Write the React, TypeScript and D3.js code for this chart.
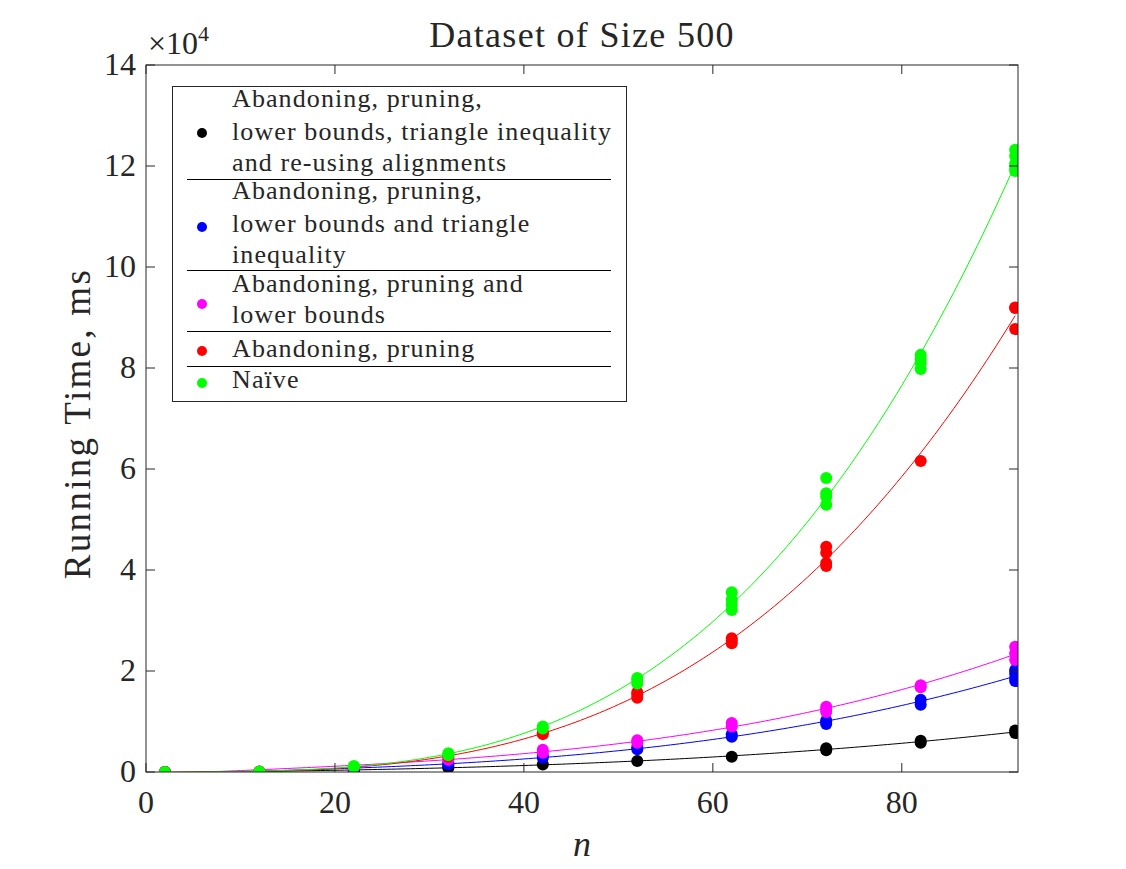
import React, { useEffect, useRef } from "react";
import * as d3 from "d3";

// problem sizes on the x axis
const nValues = [2, 12, 22, 32, 42, 52, 62, 72, 82, 92];

// running times (x 10^4 ms), several runs per n
const reuseTimes = [[0], [0], [0.01], [0.08, 0.12], [0.15], [0.22], [0.3], [0.43, 0.47], [0.58, 0.62], [0.77, 0.82]];
const triangleTimes = [[0], [0], [0.02], [0.15, 0.19], [0.28, 0.32], [0.45, 0.49], [0.7, 0.75], [0.95, 0.99, 1.02], [1.33, 1.43], [1.8, 1.86, 1.95, 2.02]];
const lowerBoundTimes = [[0], [0.01], [0.08], [0.24, 0.28], [0.38, 0.44], [0.58, 0.63], [0.9, 0.97], [1.19, 1.24, 1.29], [1.68, 1.72], [2.22, 2.35, 2.48]];
const pruningTimes = [[0], [0.01], [0.1], [0.3], [0.75, 0.78], [1.47, 1.53, 1.58], [2.55, 2.6, 2.65], [4.08, 4.14, 4.34, 4.46], [6.16], [8.77, 9.19, 9.2]];
const naiveTimes = [[0], [0.01], [0.1, 0.12], [0.33, 0.37], [0.86, 0.9], [1.75, 1.82, 1.86], [3.21, 3.31, 3.41, 3.56], [5.29, 5.45, 5.52, 5.82], [7.98, 8.1, 8.18, 8.26], [11.9, 11.95, 12.05, 12.2, 12.32]];

const legendLabels = [
  ["Abandoning, pruning,", "lower bounds, triangle inequality", "and re-using alignments"],
  ["Abandoning, pruning,", "lower bounds and triangle", "inequality"],
  ["Abandoning, pruning and", "lower bounds"],
  ["Abandoning, pruning"],
  ["Naïve"],
];
const seriesColors = ["#000000", "#0000ff", "#ff00ff", "#ff0000", "#00ff00"];
const seriesTimes = [reuseTimes, triangleTimes, lowerBoundTimes, pruningTimes, naiveTimes];

const xTicks = [0, 20, 40, 60, 80];
const yTicks = [0, 2, 4, 6, 8, 10, 12, 14];

const FONT = "'Liberation Serif', 'Times New Roman', serif";
const INK = "#262626";

// least squares cubic fit, n scaled to keep the system well conditioned
function cubicFit(xs: number[], ys: number[]) {
  const deg = 3;
  const m = deg + 1;
  const A: number[][] = Array.from({ length: m }, () => new Array(m + 1).fill(0));
  xs.forEach((x0, k) => {
    const x = x0 / 100;
    for (let i = 0; i < m; i++) {
      for (let j = 0; j < m; j++) A[i][j] += Math.pow(x, i + j);
      A[i][m] += Math.pow(x, i) * ys[k];
    }
  });
  for (let c = 0; c < m; c++) {
    let p = c;
    for (let r = c + 1; r < m; r++) if (Math.abs(A[r][c]) > Math.abs(A[p][c])) p = r;
    [A[c], A[p]] = [A[p], A[c]];
    for (let r = 0; r < m; r++) {
      if (r === c) continue;
      const f = A[r][c] / A[c][c];
      for (let k = c; k <= m; k++) A[r][k] -= f * A[c][k];
    }
  }
  const coef = A.map((row, i) => row[m] / row[i]);
  return (x0: number) => {
    const x = x0 / 100;
    return coef.reduce((s, c, i) => s + c * Math.pow(x, i), 0);
  };
}

export default function App() {
  const svgRef = useRef<SVGSVGElement>(null);

  useEffect(() => {
    const width = 1126;
    const height = 869;
    const margin = { top: 65, right: 108, bottom: 97, left: 146 };
    const svg = d3.select(svgRef.current);
    svg.selectAll("*").remove();

    const x = d3.scaleLinear().domain([0, 92.3]).range([margin.left, width - margin.right]);
    const y = d3.scaleLinear().domain([0, 14]).range([height - margin.bottom, margin.top]);

    svg.append("rect").attr("width", width).attr("height", height).attr("fill", "#fff");

    svg
      .append("defs")
      .append("clipPath")
      .attr("id", "plot-clip")
      .append("rect")
      .attr("x", margin.left)
      .attr("y", margin.top)
      .attr("width", x.range()[1] - margin.left)
      .attr("height", y.range()[0] - margin.top);

    const plot = svg.append("g").attr("clip-path", "url(#plot-clip)");

    seriesTimes.forEach((times, s) => {
      const pts = times.flatMap((runs, i) => runs.map((v) => ({ n: nValues[i], v })));
      plot
        .append("g")
        .selectAll("circle")
        .data(pts)
        .enter()
        .append("circle")
        .attr("cx", (d) => x(d.n))
        .attr("cy", (d) => y(d.v))
        .attr("r", 6)
        .attr("fill", seriesColors[s]);

      const fit = cubicFit(pts.map((d) => d.n), pts.map((d) => d.v));
      const curve = d3.range(2, 92.01, 0.5).map((n) => [n, fit(n)] as [number, number]);
      plot
        .append("path")
        .datum(curve)
        .attr("fill", "none")
        .attr("stroke", seriesColors[s])
        .attr("stroke-width", 1)
        .attr("d", d3.line().x((d) => x(d[0])).y((d) => y(d[1])));
    });

    // box with inward ticks on all sides
    const x0 = margin.left;
    const x1 = x.range()[1];
    const y0 = y.range()[0];
    const y1 = margin.top;
    const axisG = svg.append("g").attr("stroke", INK).attr("stroke-width", 1);
    axisG
      .append("rect")
      .attr("x", x0)
      .attr("y", y1)
      .attr("width", x1 - x0)
      .attr("height", y0 - y1)
      .attr("fill", "none");
    xTicks.forEach((t) => {
      axisG.append("line").attr("x1", x(t)).attr("x2", x(t)).attr("y1", y0).attr("y2", y0 - 9);
      axisG.append("line").attr("x1", x(t)).attr("x2", x(t)).attr("y1", y1).attr("y2", y1 + 9);
    });
    yTicks.forEach((t) => {
      axisG.append("line").attr("x1", x0).attr("x2", x0 + 9).attr("y1", y(t)).attr("y2", y(t));
      axisG.append("line").attr("x1", x1).attr("x2", x1 - 9).attr("y1", y(t)).attr("y2", y(t));
    });

    const txt = svg.append("g").attr("font-family", FONT).attr("fill", INK);

    txt
      .selectAll("text.xt")
      .data(xTicks)
      .enter()
      .append("text")
      .attr("x", (d) => x(d))
      .attr("y", y0 + 41)
      .attr("text-anchor", "middle")
      .attr("font-size", 32)
      .text((d) => d);

    txt
      .selectAll("text.yt")
      .data(yTicks)
      .enter()
      .append("text")
      .attr("x", x0 - 10)
      .attr("y", (d) => y(d) + 10)
      .attr("text-anchor", "end")
      .attr("font-size", 32)
      .text((d) => d);

    const mult = txt.append("text").attr("x", x0 + 2).attr("y", 54).attr("font-size", 32);
    mult.append("tspan").text("×10");
    mult.append("tspan").attr("font-size", 22).attr("dy", -13).text("4");

    txt
      .append("text")
      .attr("x", (x0 + x1) / 2)
      .attr("y", 47)
      .attr("text-anchor", "middle")
      .attr("font-size", 36)
      .attr("letter-spacing", 1.3)
      .text("Dataset of Size 500");

    txt
      .append("text")
      .attr("transform", `translate(90, ${(y0 + y1) / 2 + 5}) rotate(-90)`)
      .attr("text-anchor", "middle")
      .attr("font-size", 37)
      .attr("letter-spacing", 2.3)
      .text("Running Time, ms");

    txt
      .append("text")
      .attr("x", (x0 + x1) / 2)
      .attr("y", 856)
      .attr("text-anchor", "middle")
      .attr("font-size", 36)
      .attr("font-style", "italic")
      .text("n");

    // legend
    const lg = svg.append("g");
    lg.append("rect")
      .attr("x", 172.5)
      .attr("y", 86.5)
      .attr("width", 454)
      .attr("height", 315)
      .attr("fill", "#fff")
      .attr("stroke", INK)
      .attr("stroke-width", 1);

    const baselines = [[107, 140, 171], [199, 232, 263], [292, 323], [357], [388]];
    const markerY = [133, 227, 304, 351, 383];
    const separators = [179.5, 270.5, 331.5, 366.5];

    legendLabels.forEach((lines, s) => {
      lg.append("circle").attr("cx", 202).attr("cy", markerY[s]).attr("r", 5).attr("fill", seriesColors[s]);
      lines.forEach((line, j) => {
        lg.append("text")
          .attr("x", 232)
          .attr("y", baselines[s][j])
          .attr("font-family", FONT)
          .attr("font-size", 26)
          .attr("letter-spacing", 1.1)
          .attr("fill", INK)
          .text(line);
      });
    });
    separators.forEach((sy) => {
      lg.append("line")
        .attr("x1", 187)
        .attr("x2", 611)
        .attr("y1", sy)
        .attr("y2", sy)
        .attr("stroke", "#000")
        .attr("stroke-width", 1);
    });
  }, []);

  return (
    <svg
      ref={svgRef}
      width={1126}
      height={869}
      style={{ position: "absolute", left: 0, top: 0, display: "block" }}
    />
  );
}
